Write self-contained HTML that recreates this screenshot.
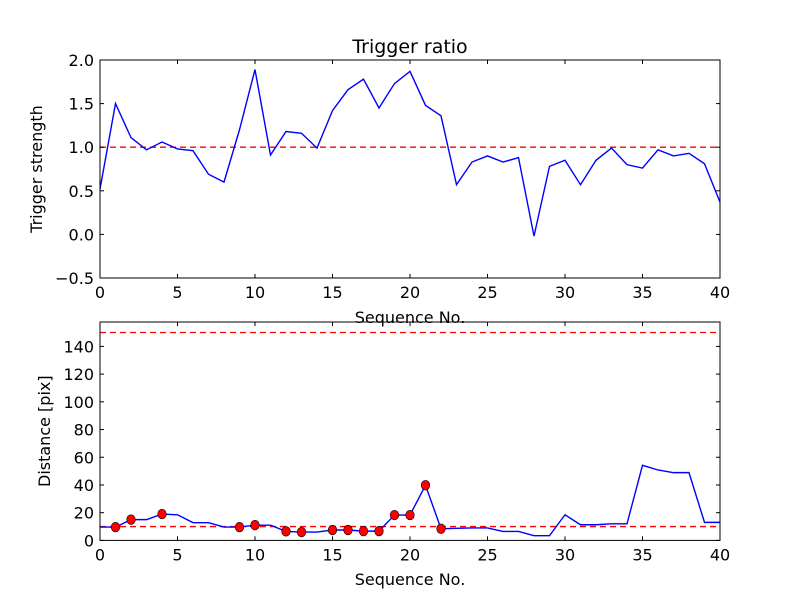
<!DOCTYPE html>
<html><head><meta charset="utf-8"><style>
body{margin:0;background:#fff}
svg{display:block;font-family:"DejaVu Sans","Liberation Sans",sans-serif}
</style></head><body>
<svg id="fig" width="800" height="600" xmlns="http://www.w3.org/2000/svg">
<rect width="800" height="600" fill="#fff"/>
</svg>
<script>
const ratioValues=[0.52,1.50,1.11,0.97,1.06,0.98,0.96,0.69,0.60,1.20,1.89,0.91,1.18,1.16,0.99,1.42,1.66,1.78,1.45,1.73,1.87,1.48,1.36,0.57,0.83,0.90,0.83,0.88,-0.02,0.78,0.85,0.57,0.85,0.99,0.80,0.76,0.97,0.90,0.93,0.81,0.37];
const distValues=[9.6,9.6,15,15,19,18.5,12.8,12.8,9.6,9.6,11,11,6.5,6,6,7.5,7.5,6.7,6.7,18.3,18.3,39.8,8.4,8.7,9,9,6.5,6.5,3.4,3.4,18.5,11.3,11.3,12,12,54.2,50.8,48.9,48.9,13,13];
const markerIdx=[1,2,4,9,10,12,13,15,16,17,18,19,20,21,22];
const xTicks=[0,5,10,15,20,25,30,35,40];
const ratioTicks=[-0.5,0,0.5,1.0,1.5,2.0];
const ratioTickLabels=["\u22120.5","0.0","0.5","1.0","1.5","2.0"];
const distTicks=[0,20,40,60,80,100,120,140];
const ratioThreshold=1.0;
const distThresholds=[10,150];

const NS="http://www.w3.org/2000/svg";
const svg=document.getElementById('fig');
function mk(tag,attrs,parent){const e=document.createElementNS(NS,tag);for(const k in attrs)e.setAttribute(k,attrs[k]);(parent||svg).appendChild(e);return e;}
const L=100,R=720;
const xs=v=>L+(v-0)/(40-0)*(R-L);

function axes(top,bot,ymin,ymax,name){
  const ys=v=>bot-(v-ymin)/(ymax-ymin)*(bot-top);
  const g=mk('g',{});
  
  
  return {g,ys,top,bot};
}
function frame(a,yt,ylabels,ylabelText,xlabelY,ylabelX){
  const {g,ys,top,bot}=a;
  xTicks.forEach(t=>{
    const x=xs(t);
    mk('line',{x1:x,y1:bot,x2:x,y2:bot-4,stroke:'#000'},g);
    mk('line',{x1:x,y1:top,x2:x,y2:top+4,stroke:'#000'},g);
    const tx=mk('text',{x:x,y:bot+20,'text-anchor':'middle','font-size':'16'},g);
    tx.textContent=t;
    
    
  });
  yt.forEach((t,i)=>{
    const y=ys(t);
    mk('line',{x1:L,y1:y,x2:L+4,y2:y,stroke:'#000'},g);
    mk('line',{x1:R,y1:y,x2:R-4,y2:y,stroke:'#000'},g);
    const tx=mk('text',{x:L-6,y:y+6,'text-anchor':'end','font-size':'16'},g);
    tx.textContent=ylabels[i];
    
    
  });
  mk('rect',{x:L,y:top,width:R-L,height:bot-top,fill:'none',stroke:'#000','stroke-width':1},g);
  const yl=mk('text',{x:0,y:0,'text-anchor':'middle','font-size':'16',transform:`translate(${ylabelX},${(top+bot)/2}) rotate(-90)`},g);
  yl.textContent=ylabelText;
  
  
  const xl=mk('text',{x:(L+R)/2,y:xlabelY,'text-anchor':'middle','font-size':'16'},g);
  xl.textContent='Sequence No.';
  
  
}

// Top chart
const a1=axes(60,278,-0.5,2.0,'trigger-ratio-chart');
const t1=mk('text',{x:(L+R)/2,y:53,'text-anchor':'middle','font-size':'19'},a1.g);
t1.textContent='Trigger ratio';


const th1=mk('line',{x1:L,x2:R,y1:a1.ys(ratioThreshold),y2:a1.ys(ratioThreshold),stroke:'#f00','stroke-dasharray':'6,4','stroke-width':1.3},a1.g);


const p1=mk('polyline',{points:ratioValues.map((v,i)=>xs(i)+','+a1.ys(v)).join(' '),fill:'none',stroke:'#00f','stroke-width':1.4},a1.g);


frame(a1,ratioTicks,ratioTickLabels,'Trigger strength',323,42);

// Bottom chart
const a2=axes(322,540.4,0,157.6,'distance-chart');
const clip=mk('clipPath',{id:'c2'},a2.g);
mk('rect',{x:L,y:322,width:R-L,height:218.4},clip);
const inner=mk('g',{'clip-path':'url(#c2)'},a2.g);
distThresholds.forEach(v=>{
  const l=mk('line',{x1:L,x2:R,y1:a2.ys(v),y2:a2.ys(v),stroke:'#f00','stroke-dasharray':'6,4','stroke-width':1.3},inner);
  
  
});
const p2=mk('polyline',{points:distValues.map((v,i)=>xs(i)+','+a2.ys(v)).join(' '),fill:'none',stroke:'#00f','stroke-width':1.4},inner);


markerIdx.forEach(i=>{
  const c=mk('ellipse',{cx:xs(i),cy:a2.ys(distValues[i]),rx:4.3,ry:4.8,fill:'#f00',stroke:'#000','stroke-width':0.6},inner);
  
  
});
frame(a2,distTicks,distTicks.map(String),'Distance [pix]',585,50);
</script>
</body></html>
